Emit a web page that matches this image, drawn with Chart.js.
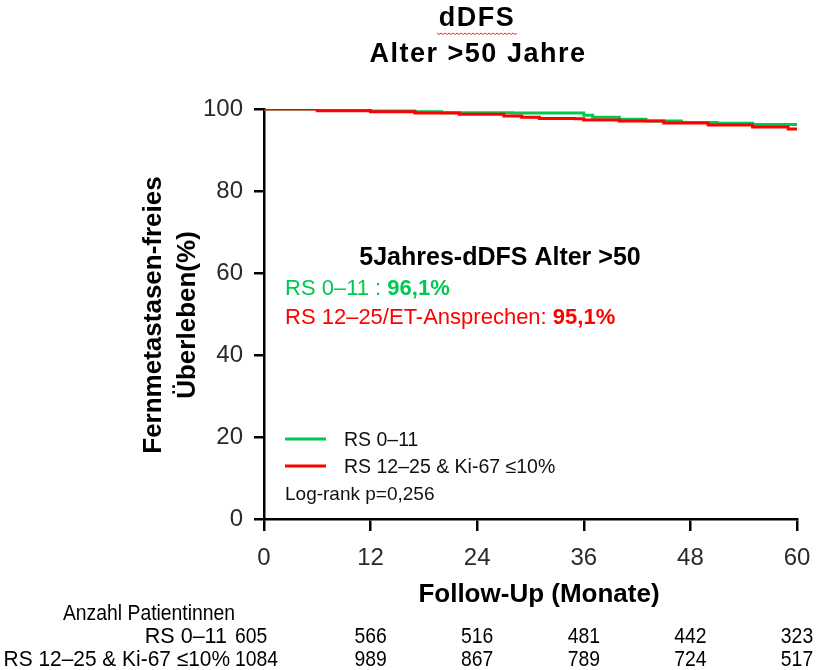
<!DOCTYPE html>
<html>
<head>
<meta charset="utf-8">
<script src="https://cdn.jsdelivr.net/npm/chart.js@4/dist/chart.umd.min.js"></script>
<style>
  html, body { margin: 0; padding: 0; background: #fff; }
  #wrap { width: 830px; height: 670px; position: relative; }
</style>
</head>
<body>
<div id="wrap"><canvas id="km" width="830" height="670"></canvas></div>
<script>
// Kaplan-Meier Schritte (Monate / Überleben in %)
const greenMonths = [0, 6, 12, 17, 20, 28, 36, 37, 40, 43, 47, 51, 55, 60];
const greenSurv   = [100, 99.8, 99.5, 99.3, 99.1, 99.0, 98.5, 98.0, 97.5, 97.1, 96.7, 96.5, 96.2, 96.1];
const redMonths   = [0, 6, 12, 17, 22, 27, 29, 31, 35, 36, 40, 45, 50, 55, 59, 60];
const redSurv     = [100, 99.6, 99.3, 99.0, 98.7, 98.3, 98.0, 97.7, 97.6, 97.3, 97.1, 96.6, 96.1, 95.6, 95.1, 95.1];

const xTicks = [0, 12, 24, 36, 48, 60];
const yTicks = [0, 20, 40, 60, 80, 100];

// Anzahl unter Risiko
const atRiskGreen = [605, 566, 516, 481, 442, 323];
const atRiskRed   = [1084, 989, 867, 789, 724, 517];

const groupNames = ['RS 0\u201311', 'RS 12\u201325 & Ki-67 \u226410%'];
const GREEN = '#00c850';
const RED = '#ff0000';
const FONT = '"Liberation Sans", Arial, sans-serif';

function toPoints(xs, ys) {
    return xs.map((x, i) => ({ x: x, y: ys[i] }));
}

// schmale Schrift für die Risikotabelle
function drawNarrow(ctx, text, x, y, align, sx = 0.88) {
    ctx.save();
    ctx.translate(x, y);
    ctx.scale(sx, 1);
    ctx.textAlign = align;
    ctx.fillText(text, 0, 0);
    ctx.restore();
}

// Texte, Legende und Risikotabelle
const extras = {
    id: 'extras',
    afterDraw(chart) {
        const ctx = chart.ctx;
        const xs = chart.scales.x;
        ctx.save();
        ctx.fillStyle = '#000';
        ctx.textBaseline = 'middle';

        // Titel
        ctx.textAlign = 'center';
        ctx.font = 'bold 27px ' + FONT;
        ctx.letterSpacing = '1.5px';
        ctx.fillText('dDFS', 477, 19);
        ctx.fillText('Alter >50 Jahre', 478, 55);
        ctx.letterSpacing = '0px';

        // rote Wellenlinie unter dDFS
        ctx.strokeStyle = '#e83030';
        ctx.lineWidth = 1;
        ctx.beginPath();
        for (let x = 437; x <= 517; x += 2) {
            const y = 33 + (((x - 437) / 2) % 2 === 0 ? 0 : 1.5);
            if (x === 437) ctx.moveTo(x, y); else ctx.lineTo(x, y);
        }
        ctx.stroke();

        // Achsentitel
        ctx.font = 'bold 26px ' + FONT;
        ctx.fillText('Follow-Up (Monate)', 539, 595);
        ctx.save();
        ctx.translate(170, 315);
        ctx.rotate(-Math.PI / 2);
        ctx.fillText('Fernmetastasen-freies', 0, -16);
        ctx.fillText('\u00dcberleben(%)', 0, 18);
        ctx.restore();

        // 5-Jahres-Raten
        ctx.font = 'bold 25px ' + FONT;
        ctx.fillText('5Jahres-dDFS Alter >50', 500, 258);
        ctx.textAlign = 'left';
        let t = 'RS 0\u201311 : ';
        ctx.font = '22px ' + FONT;
        ctx.fillStyle = GREEN;
        ctx.fillText(t, 285, 289);
        let w = ctx.measureText(t).width;
        ctx.font = 'bold 22px ' + FONT;
        ctx.fillText('96,1%', 285 + w, 289);

        t = 'RS 12\u201325/ET-Ansprechen: ';
        ctx.font = '22px ' + FONT;
        ctx.fillStyle = RED;
        ctx.fillText(t, 285, 318);
        w = ctx.measureText(t).width;
        ctx.font = 'bold 22px ' + FONT;
        ctx.fillText('95,1%', 285 + w, 318);

        // Legende
        ctx.lineWidth = 3;
        ctx.strokeStyle = GREEN;
        ctx.beginPath(); ctx.moveTo(285, 439); ctx.lineTo(326, 439); ctx.stroke();
        ctx.strokeStyle = RED;
        ctx.beginPath(); ctx.moveTo(285, 466); ctx.lineTo(326, 466); ctx.stroke();
        ctx.fillStyle = '#111';
        ctx.font = '19.5px ' + FONT;
        ctx.fillText(groupNames[0], 344, 441);
        ctx.fillText(groupNames[1], 344, 468);
        ctx.font = '19px ' + FONT;
        ctx.fillText('Log-rank p=0,256', 285, 495);

        // Risikotabelle
        ctx.fillStyle = '#000';
        ctx.font = '22px ' + FONT;
        drawNarrow(ctx, 'Anzahl Patientinnen', 149, 614, 'center');
        drawNarrow(ctx, groupNames[0], 227, 637, 'right', 0.98);
        drawNarrow(ctx, groupNames[1], 230, 660, 'right', 0.95);
        [atRiskGreen, atRiskRed].forEach((row, r) => {
            const y = r === 0 ? 637 : 660;
            row.forEach((n, i) => {
                if (i === 0) {
                    drawNarrow(ctx, String(n), 235, y, 'left');
                } else {
                    drawNarrow(ctx, String(n), xs.getPixelForValue(xTicks[i]), y, 'center');
                }
            });
        });
        ctx.restore();
    }
};

new Chart(document.getElementById('km'), {
    type: 'line',
    data: {
        datasets: [
            {
                label: groupNames[1],
                data: toPoints(redMonths, redSurv),
                borderColor: RED,
                borderWidth: 3,
                stepped: true,
                pointRadius: 0,
                order: 1
            },
            {
                label: groupNames[0],
                data: toPoints(greenMonths, greenSurv),
                borderColor: GREEN,
                borderWidth: 3,
                stepped: true,
                pointRadius: 0,
                order: 2
            }
        ]
    },
    options: {
        responsive: false,
        animation: false,
        layout: { padding: { top: 109, right: 33, left: 0, bottom: 0 } },
        plugins: { legend: { display: false }, tooltip: { enabled: false } },
        scales: {
            x: {
                type: 'linear',
                min: 0,
                max: 60,
                afterBuildTicks: s => { s.ticks = xTicks.map(v => ({ value: v })); },
                afterFit: s => { s.height = 151; },
                ticks: {
                    color: '#2a2a2a',
                    font: { size: 24, family: FONT },
                    padding: 13
                },
                grid: { drawOnChartArea: false, drawTicks: true, tickLength: 12, color: '#000', lineWidth: 2.5 },
                border: { display: true, color: '#000', width: 2.5 }
            },
            y: {
                min: 0,
                max: 100,
                afterBuildTicks: s => { s.ticks = yTicks.map(v => ({ value: v })); },
                afterFit: s => { s.width = 264; },
                ticks: {
                    color: '#2a2a2a',
                    font: { size: 24, family: FONT },
                    padding: 11
                },
                grid: { drawOnChartArea: false, drawTicks: true, tickLength: 10, color: '#000', lineWidth: 2.5 },
                border: { display: true, color: '#000', width: 2.5 }
            }
        }
    },
    plugins: [extras]
});
</script>
</body>
</html>
